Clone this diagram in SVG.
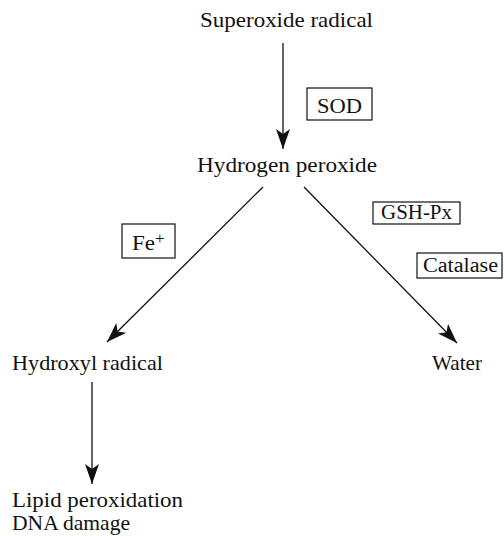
<svg xmlns="http://www.w3.org/2000/svg" width="504" height="536" viewBox="0 0 504 536">
<style>
text{font-family:"Liberation Serif","Times New Roman",serif;fill:#111;font-size:21px}
.lbl{font-size:20px}
.box{fill:#fff;stroke:#111;stroke-width:1.2}
.edge{stroke:#111;stroke-width:1.3;fill:none;marker-end:url(#ah)}
</style>
<defs>
<marker id="ah" viewBox="0 0 20 14" refX="20" refY="7" markerWidth="20" markerHeight="14" markerUnits="userSpaceOnUse" orient="auto">
<path d="M0,0 L20,7 L0,14 L5,7 Z" fill="#111"/>
</marker>
</defs>
<rect width="504" height="536" fill="#fff"/>
<g id="n-superoxide"><text x="200" y="27" textLength="173" lengthAdjust="spacingAndGlyphs">Superoxide radical</text></g>
<g id="n-h2o2"><text x="197" y="172" textLength="180" lengthAdjust="spacingAndGlyphs">Hydrogen peroxide</text></g>
<g id="n-hydroxyl"><text x="12" y="370" textLength="151" lengthAdjust="spacingAndGlyphs">Hydroxyl radical</text></g>
<g id="n-water"><text x="432" y="370" textLength="50" lengthAdjust="spacingAndGlyphs">Water</text></g>
<g id="n-damage"><text x="12" y="507" textLength="171" lengthAdjust="spacingAndGlyphs">Lipid peroxidation</text><text x="12" y="530" textLength="118" lengthAdjust="spacingAndGlyphs">DNA damage</text></g>
<g id="l-sod"><rect class="box" x="307" y="88" width="65" height="32"/><text class="lbl" x="317" y="113" textLength="45" lengthAdjust="spacingAndGlyphs">SOD</text></g>
<g id="l-gsh"><rect class="box" x="373" y="202" width="87" height="22"/><text class="lbl" x="381" y="219" textLength="71" lengthAdjust="spacingAndGlyphs">GSH-Px</text></g>
<g id="l-fe"><rect class="box" x="122" y="224" width="53" height="34"/><text class="lbl" x="132" y="250" textLength="23" lengthAdjust="spacingAndGlyphs">Fe</text><text x="155" y="244" style="font-size:17px">+</text></g>
<g id="l-catalase"><rect class="box" x="417" y="253" width="85" height="25"/><text class="lbl" x="423" y="272" textLength="75" lengthAdjust="spacingAndGlyphs">Catalase</text></g>
<g id="connectors">
<line class="edge" x1="283" y1="43" x2="283" y2="149"/>
<line class="edge" x1="263" y1="187" x2="107" y2="342"/>
<line class="edge" x1="304" y1="187" x2="457" y2="343"/>
<line class="edge" x1="92" y1="382" x2="92" y2="484"/>
</g>
</svg>
